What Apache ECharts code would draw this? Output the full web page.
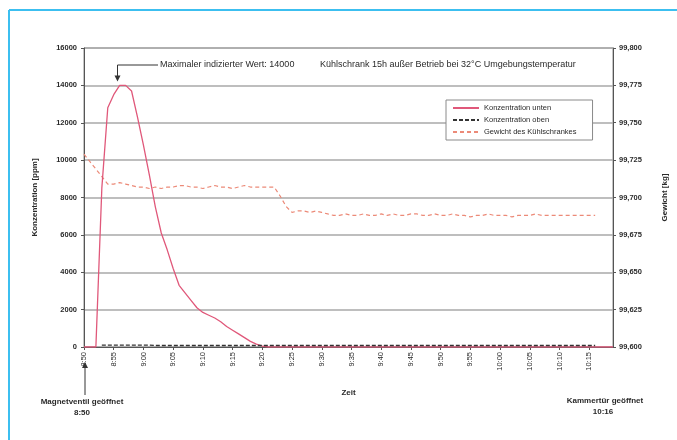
<!DOCTYPE html>
<html>
<head>
<meta charset="utf-8">
<script src="https://cdn.jsdelivr.net/npm/echarts@6/dist/echarts.min.js"></script>
<style>
html,body{margin:0;padding:0;background:#fff;}
#c{width:677px;height:440px;}
</style>
</head>
<body>
<div id="c"></div>
<script>
var categories = [
"8:50","8:51","8:52","8:53","8:54","8:55","8:56","8:57","8:58","8:59",
"9:00","9:01","9:02","9:03","9:04","9:05","9:06","9:07","9:08","9:09",
"9:10","9:11","9:12","9:13","9:14","9:15","9:16","9:17","9:18","9:19",
"9:20","9:21","9:22","9:23","9:24","9:25","9:26","9:27","9:28","9:29",
"9:30","9:31","9:32","9:33","9:34","9:35","9:36","9:37","9:38","9:39",
"9:40","9:41","9:42","9:43","9:44","9:45","9:46","9:47","9:48","9:49",
"9:50","9:51","9:52","9:53","9:54","9:55","9:56","9:57","9:58","9:59",
"10:00","10:01","10:02","10:03","10:04","10:05","10:06","10:07","10:08","10:09",
"10:10","10:11","10:12","10:13","10:14","10:15","10:16","10:17","10:18","10:19"
];
var seriesNames = ["Konzentration unten","Konzentration oben","Gewicht des Kühlschrankes"];
var konzUnten = [
0,0,0,8500,12800,13500,14000,14000,13700,12300,
10800,9200,7500,6100,5200,4200,3300,2900,2500,2100,
1850,1700,1550,1350,1100,900,700,500,300,150,
50,0,0,0,0,0,0,0,0,0,
0,0,0,0,0,0,0,0,0,0,
0,0,0,0,0,0,0,0,0,0,
0,0,0,0,0,0,0,0,0,0,
0,0,0,0,0,0,0,0,0,0,
0,0,0,0,0,0,0,0,0,0
];
var konzOben = [
null,null,null,100,100,100,100,100,100,100,
100,100,80,80,80,80,80,80,80,80,
80,80,80,80,80,80,80,80,80,80,
80,80,80,80,80,80,80,80,80,80,
80,80,80,80,80,80,80,80,80,80,
80,80,80,80,80,80,80,80,80,80,
80,80,80,80,80,80,80,80,80,80,
80,80,80,80,80,80,80,80,80,80,
80,80,80,80,80,80,80,null,null,null
];
var gewicht = [
99.729,99.724,99.719,99.714,99.709,99.709,99.710,99.709,99.708,99.707,
99.707,99.706,99.707,99.706,99.707,99.707,99.708,99.708,99.707,99.707,
99.706,99.707,99.708,99.707,99.707,99.706,99.707,99.708,99.707,99.707,
99.707,99.707,99.707,99.701,99.694,99.690,99.691,99.691,99.690,99.691,
99.690,99.689,99.688,99.688,99.689,99.688,99.688,99.689,99.688,99.688,
99.689,99.688,99.689,99.688,99.688,99.689,99.689,99.688,99.688,99.689,
99.688,99.688,99.689,99.688,99.688,99.687,99.688,99.688,99.689,99.688,
99.688,99.688,99.687,99.688,99.688,99.688,99.689,99.688,99.688,99.688,
99.688,99.688,99.688,99.688,99.688,99.688,99.688,null,null,null
];
var leftTicks = {min:0, max:16000, interval:2000};
var rightTicks = {min:99.6, max:99.8, interval:0.025};
var peakText = "Maximaler indizierter Wert: 14000";
var titleText = "Kühlschrank 15h außer Betrieb bei 32°C Umgebungstemperatur";
var startText = ["Magnetventil geöffnet","8:50"];
var endText = ["Kammertür geöffnet","10:16"];

var FONT = "Liberation Sans";
var TXT = "#2a2a2a";
var chart = echarts.init(document.getElementById('c'), null, {renderer:'canvas'});
var option = {
  animation:false,
  backgroundColor:'#fff',
  textStyle:{fontFamily:FONT},
  grid:{left:84, right:60, top:48, bottom:93, show:true, borderColor:'#8a8a8a', borderWidth:1, backgroundColor:'transparent'},
  legend:{
    orient:'vertical', left:446, top:100,
    data:seriesNames,
    backgroundColor:'#fff', borderColor:'#8a8a8a', borderWidth:1,
    padding:[4,16,4,6], itemGap:4, itemWidth:26, itemHeight:8,
    itemStyle:{color:'transparent', borderColor:'transparent', borderWidth:0},
    textStyle:{fontSize:7.5, color:TXT, fontFamily:FONT}
  },
  xAxis:{
    type:'category', data:categories, boundaryGap:false,
    name:'Zeit', nameLocation:'middle', nameGap:42,
    nameTextStyle:{fontSize:8, fontWeight:'bold', color:TXT},
    axisLine:{lineStyle:{color:'#555', width:1}},
    axisTick:{show:true, interval:4, length:3, lineStyle:{color:'#555'}},
    axisLabel:{interval:4, rotate:90, fontSize:7.5, color:TXT, margin:5},
    splitLine:{show:false}
  },
  yAxis:[{
    type:'value', min:leftTicks.min, max:leftTicks.max, interval:leftTicks.interval,
    name:'Konzentration [ppm]', nameLocation:'middle', nameGap:45, nameRotate:90,
    nameTextStyle:{fontSize:8, fontWeight:'bold', color:TXT},
    axisLine:{show:true, lineStyle:{color:'#555'}},
    axisTick:{show:true, length:3, lineStyle:{color:'#555'}},
    axisLabel:{fontSize:7.5, fontWeight:'bold', color:TXT, margin:7,
      formatter:function(v){return String(v);}},
    splitLine:{show:true, lineStyle:{color:'#a8a8a8', width:1.5}}
  },{
    type:'value', min:rightTicks.min, max:rightTicks.max, interval:rightTicks.interval,
    position:'right',
    name:'Gewicht [kg]', nameLocation:'middle', nameGap:48, nameRotate:90,
    nameTextStyle:{fontSize:8, fontWeight:'bold', color:TXT},
    axisLine:{show:true, lineStyle:{color:'#555'}},
    axisTick:{show:true, length:3, lineStyle:{color:'#555'}},
    axisLabel:{fontSize:7.5, fontWeight:'bold', color:TXT, margin:6,
      formatter:function(v){return v.toFixed(3).replace('.',',');}},
    splitLine:{show:false}
  }],
  series:[{
    name:seriesNames[0], type:'line', data:konzUnten, yAxisIndex:0,
    showSymbol:false, symbol:'none', lineStyle:{color:'#e0587a', width:1.3}, itemStyle:{color:'#e0587a'}, z:3
  },{
    name:seriesNames[1], type:'line', data:konzOben, yAxisIndex:0,
    showSymbol:false, symbol:'none', lineStyle:{color:'#333', width:1.3, type:[4,2]}, itemStyle:{color:'#333'}, z:4
  },{
    name:seriesNames[2], type:'line', data:gewicht, yAxisIndex:1,
    showSymbol:false, symbol:'none', lineStyle:{color:'#ec8a78', width:1.2, type:[4,3]}, itemStyle:{color:'#ec8a78'}, z:2
  }]
};
chart.setOption(option);

// annotations
var maxV = Math.max.apply(null, konzUnten);
var maxI = konzUnten.indexOf(maxV);
var pk = chart.convertToPixel({seriesIndex:0}, [maxI, maxV]);
var px = Math.round(pk[0]) + 0.5 - 3;
var x0 = chart.convertToPixel({xAxisIndex:0}, categories[0]);
var gridBottom = chart.convertToPixel({yAxisIndex:0}, 0);
var lineY = 65;
chart.setOption({
  graphic:[
    {type:'line', shape:{x1:9, y1:10, x2:9, y2:440}, style:{stroke:'#3cbff0', lineWidth:2}, z:100},
    {type:'line', shape:{x1:9, y1:10, x2:677, y2:10}, style:{stroke:'#3cbff0', lineWidth:2}, z:100},
    {type:'text', x:318, y:lineY, z:50, style:{text:titleText, fontSize:9, fill:TXT, fontFamily:FONT, verticalAlign:'middle', backgroundColor:'#fff', padding:[4,2]}},
    {type:'polyline', shape:{points:[[158,lineY],[px,lineY],[px,pk[1]-9]]}, style:{stroke:'#333', lineWidth:1, fill:null}, z:50},
    {type:'polygon', shape:{points:[[px-3,pk[1]-10],[px+3,pk[1]-10],[px,pk[1]-4]]}, style:{fill:'#333'}, z:50},
    {type:'text', x:160, y:lineY, z:50, style:{text:peakText, fontSize:9, fill:TXT, fontFamily:FONT, verticalAlign:'middle'}},
    {type:'line', shape:{x1:x0+1, y1:gridBottom+48, x2:x0+1, y2:gridBottom+20}, style:{stroke:'#333', lineWidth:1}, z:50},
    {type:'polygon', shape:{points:[[x0-2,gridBottom+21],[x0+4,gridBottom+21],[x0+1,gridBottom+15]]}, style:{fill:'#333'}, z:50},
    {type:'text', x:82, y:402, z:50, style:{text:startText[0], fontSize:8, fontWeight:'bold', fill:TXT, fontFamily:FONT, align:'center', verticalAlign:'middle'}},
    {type:'text', x:82, y:413, z:50, style:{text:startText[1], fontSize:8, fontWeight:'bold', fill:TXT, fontFamily:FONT, align:'center', verticalAlign:'middle'}},
    {type:'text', x:605, y:401, z:50, style:{text:endText[0], fontSize:8, fontWeight:'bold', fill:TXT, fontFamily:FONT, align:'center', verticalAlign:'middle'}},
    {type:'text', x:603, y:412, z:50, style:{text:endText[1], fontSize:8, fontWeight:'bold', fill:TXT, fontFamily:FONT, align:'center', verticalAlign:'middle'}}
  ]
});
</script>
</body>
</html>
